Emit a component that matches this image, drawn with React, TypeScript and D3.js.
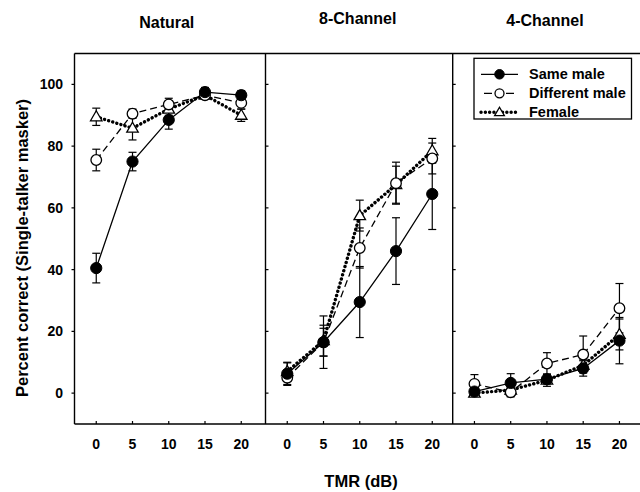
import React from "react";
import * as d3 from "d3";

const tmr = [0, 5, 10, 15, 20];
const panelTitles = ["Natural", "8-Channel", "4-Channel"];
const seriesNames = ["Same male", "Different male", "Female"];

// Natural
const natSame = [40.5, 75, 88.5, 97.5, 96.5];
const natSameErr = [4.8, 3, 3, 1.5, 1.5];
const natDiff = [75.5, 90.5, 93.5, 96.5, 94];
const natDiffErr = [3.5, 1.5, 2, 1, 2];
const natFem = [89.5, 85.8, 92, 96.5, 90];
const natFemErr = [2.8, 3.8, 2, 1, 2];

// 8-Channel
const ch8Same = [6.3, 16.5, 29.5, 46, 64.5];
const ch8SameErr = [3.5, 8.5, 11.5, 10.8, 11.5];
const ch8Diff = [5, 16.5, 47, 68, 76];
const ch8DiffErr = [2.5, 4.5, 6.5, 6.8, 5];
const ch8Fem = [7, 17, 57.5, 67.5, 78.5];
const ch8FemErr = [3, 5, 5, 6, 4];

// 4-Channel
const ch4Same = [0.5, 3.3, 4.5, 8, 17];
const ch4SameErr = [1.5, 3, 1.5, 2.5, 7.5];
const ch4Diff = [3, 0.3, 9.6, 12.5, 27.5];
const ch4DiffErr = [3, 1.5, 3.5, 6, 8];
const ch4Fem = [0, 1, 4.2, 9, 19];
const ch4FemErr = [1, 1, 2, 2, 5];

const yTicks = [0, 20, 40, 60, 80, 100];
const xTicks = [0, 5, 10, 15, 20];

const panels = [
  { title: panelTitles[0], series: [[natSame, natSameErr], [natDiff, natDiffErr], [natFem, natFemErr]] },
  { title: panelTitles[1], series: [[ch8Same, ch8SameErr], [ch8Diff, ch8DiffErr], [ch8Fem, ch8FemErr]] },
  { title: panelTitles[2], series: [[ch4Same, ch4SameErr], [ch4Diff, ch4DiffErr], [ch4Fem, ch4FemErr]] },
];

const FONT = "'Liberation Sans', Arial, Helvetica, sans-serif";
const panelLefts = [74.5, 265.5, 452.7];
const panelW = 188.5;
const top = 53.5;
const bottom = 424;
const titleY = [28, 24, 26];

const y = d3.scaleLinear().domain([-10, 110]).range([bottom, top]);

const lineStyles = [
  { dash: undefined as string | undefined, width: 1.3, cap: "butt" },
  { dash: "7 4", width: 1.3, cap: "butt" },
  { dash: "0.1 4.2", width: 3.4, cap: "round" },
];

function Marker({ kind, cx, cy, s = 1 }: { kind: number; cx: number; cy: number; s?: number }) {
  if (kind === 0) return <circle cx={cx} cy={cy} r={5.6 * s} fill="#000" stroke="#000" strokeWidth={1} />;
  if (kind === 1) return <circle cx={cx} cy={cy} r={5.3 * s} fill="#fff" stroke="#000" strokeWidth={1.3} />;
  const h = 10 * s;
  const w = 11.5 * s;
  const p = `M${cx},${cy - h * 0.6} L${cx + w / 2},${cy + h * 0.4} L${cx - w / 2},${cy + h * 0.4} Z`;
  return <path d={p} fill="#fff" stroke="#000" strokeWidth={1.3} />;
}

export default function App() {
  return (
    <svg
      width={640}
      height={492}
      style={{ position: "absolute", left: 0, top: 0, background: "#fff" }}
      fontFamily={FONT}
    >
      <rect width={640} height={492} fill="#fff" />
      {panels.map((p, pi) => {
        const left = panelLefts[pi];
        const x = d3.scaleLinear().domain([-3, 23]).range([left, left + panelW]);
        const line = d3
          .line<number>()
          .x((_, i) => x(tmr[i]))
          .y((d) => y(d));
        return (
          <g key={pi}>
            <text
              x={left + panelW / 2 - 2}
              y={titleY[pi]}
              textAnchor="middle"
              fontWeight="bold"
              fontSize={16}
            >
              {p.title}
            </text>
            {xTicks.map((t) => (
              <g key={t}>
                <line x1={x(t)} x2={x(t)} y1={bottom} y2={bottom - 3} stroke="#000" strokeWidth={1.2} />
                <text x={x(t)} y={448.5} textAnchor="middle" fontWeight="bold" fontSize={14}>
                  {t}
                </text>
              </g>
            ))}
            {yTicks.map((t) => (
              <line
                key={t}
                x1={left}
                x2={pi === 0 ? left - 3 : left + 3}
                y1={y(t)}
                y2={y(t)}
                stroke="#000"
                strokeWidth={1.2}
              />
            ))}
            {p.series.map(([vals, errs], si) => (
              <g key={"e" + si}>
                {vals.map((v, i) => (
                  <g key={i}>
                    <line x1={x(tmr[i])} x2={x(tmr[i])} y1={y(v - errs[i])} y2={y(v + errs[i])} stroke="#000" strokeWidth={1.2} />
                    <line x1={x(tmr[i]) - 4} x2={x(tmr[i]) + 4} y1={y(v - errs[i])} y2={y(v - errs[i])} stroke="#000" strokeWidth={1.2} />
                    <line x1={x(tmr[i]) - 4} x2={x(tmr[i]) + 4} y1={y(v + errs[i])} y2={y(v + errs[i])} stroke="#000" strokeWidth={1.2} />
                  </g>
                ))}
              </g>
            ))}
            {p.series.map(([vals], si) => (
              <path
                key={"l" + si}
                d={line(vals) || ""}
                fill="none"
                stroke="#000"
                strokeWidth={lineStyles[si].width}
                strokeDasharray={lineStyles[si].dash}
                strokeLinecap={lineStyles[si].cap as any}
              />
            ))}
            {[2, 1, 0].map((si) =>
              p.series[si][0].map((v, i) => <Marker key={si + "-" + i} kind={si} cx={x(tmr[i])} cy={y(v)} />)
            )}
          </g>
        );
      })}
      <line x1={panelLefts[0]} x2={641} y1={top} y2={top} stroke="#000" strokeWidth={1.6} />
      <line x1={panelLefts[0]} x2={641} y1={bottom} y2={bottom} stroke="#000" strokeWidth={1.6} />
      {panelLefts.map((l, i) => (
        <line key={i} x1={l} x2={l} y1={top} y2={bottom} stroke="#000" strokeWidth={1.4} />
      ))}
      {yTicks.map((t) => (
        <text key={t} x={63} y={y(t) + 5} textAnchor="end" fontWeight="bold" fontSize={14}>
          {t}
        </text>
      ))}
      <text
        transform={`translate(28,248) rotate(-90)`}
        textAnchor="middle"
        fontWeight="bold"
        fontSize={16.5}
      >
        Percent correct (Single-talker masker)
      </text>
      <text x={361} y={487} textAnchor="middle" fontWeight="bold" fontSize={16.5}>
        TMR (dB)
      </text>
      <rect x={474} y={58.3} width={157.5} height={60.7} fill="#fff" stroke="#000" strokeWidth={1.3} />
      {seriesNames.map((n, i) => {
        const ly = 74.3 + i * 19;
        return (
          <g key={n}>
            <line
              x1={i === 1 ? 484 : 481}
              x2={i === 1 ? 515 : 518}
              y1={ly}
              y2={ly}
              stroke="#000"
              strokeWidth={lineStyles[i].width}
              strokeDasharray={i === 1 ? "8 14" : lineStyles[i].dash}
              strokeLinecap={lineStyles[i].cap as any}
            />
            <Marker kind={i} cx={499.5} cy={ly} s={0.85} />
            <text x={529} y={ly + 5} fontWeight="bold" fontSize={14.5}>
              {n}
            </text>
          </g>
        );
      })}
    </svg>
  );
}
